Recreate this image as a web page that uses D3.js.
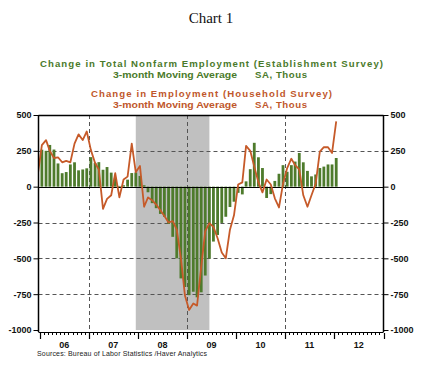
<!DOCTYPE html>
<html><head><meta charset="utf-8">
<script src="https://cdn.jsdelivr.net/npm/d3@7"></script>
<style>body{margin:0;background:#fff}svg{display:block}</style>
</head><body><svg id="c" width="423" height="366"></svg>
<script>
// ---- data (monthly, Dec 2005 .. Jan 2012) ----
const firstMonth = "2005-12";
// Establishment survey, 3-month moving average, thous (Dec 2005 not shown)
const nonfarm = [null,
  258, 250, 291, 259, 162, 94, 102, 155, 170, 114, 120, 128,      // 2006
  206, 166, 171, 118, 137, 98, 61, 5, 10, 49, 95, 99,             // 2007
  75, 10, -39, -115, -150, -190, -210, -260, -350, -500, -640, -700, // 2008
  -757, -733, -772, -737, -620, -502, -383, -337, -253, -210, -142, -105, // 2009
  -43, -54, 37, 122, 306, 205, 130, -79, -52, 40, 90, 150,        // 2010
  104, 150, 175, 235, 170, 110, 72, 85, 130, 140, 155, 155,       // 2011
  200];                                                           // 2012
// Household survey, 3-month moving average, thous
const household = [80,
  290, 325, 250, 200, 205, 170, 180, 170, 300, 365, 325, 385,     // 2006
  255, 165, 120, -155, -85, -60, 95, -75, 50, 70, 300, 100,       // 2007
  145, -140, -75, -95, -125, -165, -205, -250, -240, -300, -500, -760, // 2008
  -860, -815, -830, -560, -310, -255, -280, -360, -460, -500, -300, -200, // 2009
  15, 30, 285, 250, 140, 30, -40, 50, 15, -81, -145, 20,          // 2010
  130, 195, 150, 120, -60, -140, -60, 20, 245, 276, 275, 235,     // 2011
  455];                                                           // 2012
const yTicks = [500, 250, 0, -250, -500, -750, -1000];
const yearLabels = ["06", "07", "08", "09", "10", "11", "12"];
const gridYears = [2007, 2009, 2011];
const recession = ["2007-12-15", "2009-06-15"];
const title = "Chart 1";
const legendGreen = ["Change in Total Nonfarm Employment (Establishment Survey)", "3-month Moving Average", "SA, Thous"];
const legendOrange = ["Change in Employment (Household Survey)", "3-month Moving Average", "SA, Thous"];
const source = "Sources:  Bureau of Labor Statistics /Haver Analytics";

// ---- setup ----
const GREEN = "#4e7b2c", ORANGE = "#c65a29", GREEN_T = "#4a7a2a", ORANGE_T = "#c0572b";
const svg = d3.select("#c");
const L = 38.5, R = 383.5, T = 115, B = 330, AX = 332;
const parse = d3.timeParse("%Y-%m");
const start = parse(firstMonth);
const months = household.map((_, i) => d3.timeMonth.offset(start, i));
const mid = d => new Date(d.getFullYear(), d.getMonth(), 15);

const x = d3.scaleTime().domain([new Date(2006, 0, 1), new Date(2013, 0, 1)]).range([40, R]);
const y = d3.scaleLinear().domain([-1000, 500]).range([B, T]);

// title & legend
svg.append("text").attr("x", 211).attr("y", 23).attr("text-anchor", "middle")
  .attr("font-family", "Liberation Serif, Times New Roman, serif").attr("font-size", 15).attr("fill", "#111").text(title);
function legendBlock(lines, color, y1, y2, len1) {
  svg.append("text").attr("x", 211.5 - len1 / 2).attr("y", y1).attr("textLength", len1).attr("lengthAdjust", "spacing")
    .attr("font-family", "Liberation Sans, Arial, sans-serif").attr("font-weight", "bold").attr("font-size", 9.6)
    .attr("fill", color).text(lines[0]);
  svg.append("text").attr("x", 113).attr("y", y2).attr("textLength", 124).attr("lengthAdjust", "spacingAndGlyphs")
    .attr("font-family", "Liberation Sans, Arial, sans-serif").attr("font-weight", "bold").attr("font-size", 9.6)
    .attr("fill", color).text(lines[1]);
  svg.append("text").attr("x", 255).attr("y", y2).attr("textLength", 52).attr("lengthAdjust", "spacing")
    .attr("font-family", "Liberation Sans, Arial, sans-serif").attr("font-weight", "bold").attr("font-size", 9.6)
    .attr("fill", color).text(lines[2]);
}
legendBlock(legendGreen, GREEN_T, 67, 77.5, 343);
legendBlock(legendOrange, ORANGE_T, 97, 107.5, 241);

// recession shading
svg.append("rect").attr("x", x(new Date(recession[0]))).attr("y", T)
  .attr("width", x(new Date(recession[1])) - x(new Date(recession[0]))).attr("height", B - T)
  .attr("fill", "#c0c0c0");

// grid
const g = svg.append("g");
g.selectAll("line.hg").data(yTicks.filter(v => v !== 0 && v !== 500 && v !== -1000)).join("line")
  .attr("x1", L).attr("x2", R).attr("y1", d => Math.round(y(d)) + 0.5).attr("y2", d => Math.round(y(d)) + 0.5)
  .attr("stroke", "#555").attr("stroke-dasharray", "4,3");
g.selectAll("line.vg").data(gridYears).join("line")
  .attr("x1", d => Math.round(x(new Date(d, 0, 1))) + 0.5).attr("x2", d => Math.round(x(new Date(d, 0, 1))) + 0.5)
  .attr("y1", T).attr("y2", AX).attr("stroke", "#555").attr("stroke-dasharray", "4,3");

// bars
const bw = 2.8;
svg.append("g").selectAll("rect").data(months.map((m, i) => ({ m, v: nonfarm[i] })).filter(d => d.v !== null)).join("rect")
  .attr("x", d => x(mid(d.m)) - bw / 2).attr("width", bw)
  .attr("y", d => y(Math.max(0, d.v))).attr("height", d => Math.abs(y(d.v) - y(0)))
  .attr("fill", GREEN);

// zero line
svg.append("line").attr("x1", L).attr("x2", R).attr("y1", Math.round(y(0)) + 0.5).attr("y2", Math.round(y(0)) + 0.5)
  .attr("stroke", "#000").attr("stroke-width", 1.2);

// household line (clipped to plot)
svg.append("clipPath").attr("id", "pc").append("rect").attr("x", L + 0.5).attr("y", T).attr("width", R - L).attr("height", B - T);
svg.append("path").datum(months.map((m, i) => ({ m, v: household[i] })))
  .attr("clip-path", "url(#pc)")
  .attr("d", d3.line().x(d => x(mid(d.m))).y(d => y(d.v)))
  .attr("fill", "none").attr("stroke", ORANGE).attr("stroke-width", 1.8).attr("stroke-linejoin", "round");

// frame
svg.append("line").attr("x1", L).attr("x2", R).attr("y1", T + 0.5).attr("y2", T + 0.5).attr("stroke", "#000").attr("stroke-width", 1.5);

// y axes
const fontAx = "Liberation Sans, Arial, sans-serif";
const yl = svg.append("g").attr("transform", `translate(${L},0)`)
  .call(d3.axisLeft(y).tickValues(yTicks).tickSize(5).tickPadding(2).tickFormat(d3.format("d")));
const yr = svg.append("g").attr("transform", `translate(${R},0)`)
  .call(d3.axisRight(y).tickValues(yTicks).tickSize(5).tickPadding(2).tickFormat(d3.format("d")));
[yl, yr].forEach(a => {
  a.select(".domain").attr("stroke", "#000").attr("stroke-width", 1.5).attr("d", `M0,${T}V${AX}`);
  a.selectAll("text").attr("font-family", fontAx).attr("font-weight", "bold").attr("font-size", 9).attr("fill", "#111")
    .text(d => String(d).replace("\u2212", "-"));
});

// x axis
const xa = svg.append("g").attr("transform", `translate(0,${AX})`);
xa.append("line").attr("x1", L).attr("x2", R).attr("y1", 0.5).attr("y2", 0.5).attr("stroke", "#000").attr("stroke-width", 1.2);
xa.call(g0 => {
  const minor = d3.timeMonth.range(new Date(2006, 0, 1), new Date(2013, 0, 2));
  g0.selectAll("line.mn").data(minor).join("line")
    .attr("x1", d => Math.round(x(d)) + 0.5).attr("x2", d => Math.round(x(d)) + 0.5)
    .attr("y1", 1).attr("y2", d => d.getMonth() === 0 ? 7 : 3)
    .attr("stroke", "#000").attr("stroke-width", d => d.getMonth() === 0 ? 1.2 : 1);
});
xa.selectAll("text").data(yearLabels).join("text")
  .attr("x", (d, i) => x(new Date(2006 + i, 6, 1))).attr("y", 16).attr("text-anchor", "middle")
  .attr("font-family", fontAx).attr("font-weight", "bold").attr("font-size", 9).attr("fill", "#111").text(d => d);

// source
svg.append("text").attr("x", 37).attr("y", 356).attr("font-family", fontAx).attr("font-size", 7).attr("fill", "#222")
  .attr("textLength", 170).attr("lengthAdjust", "spacing").text(source);
</script></body></html>
